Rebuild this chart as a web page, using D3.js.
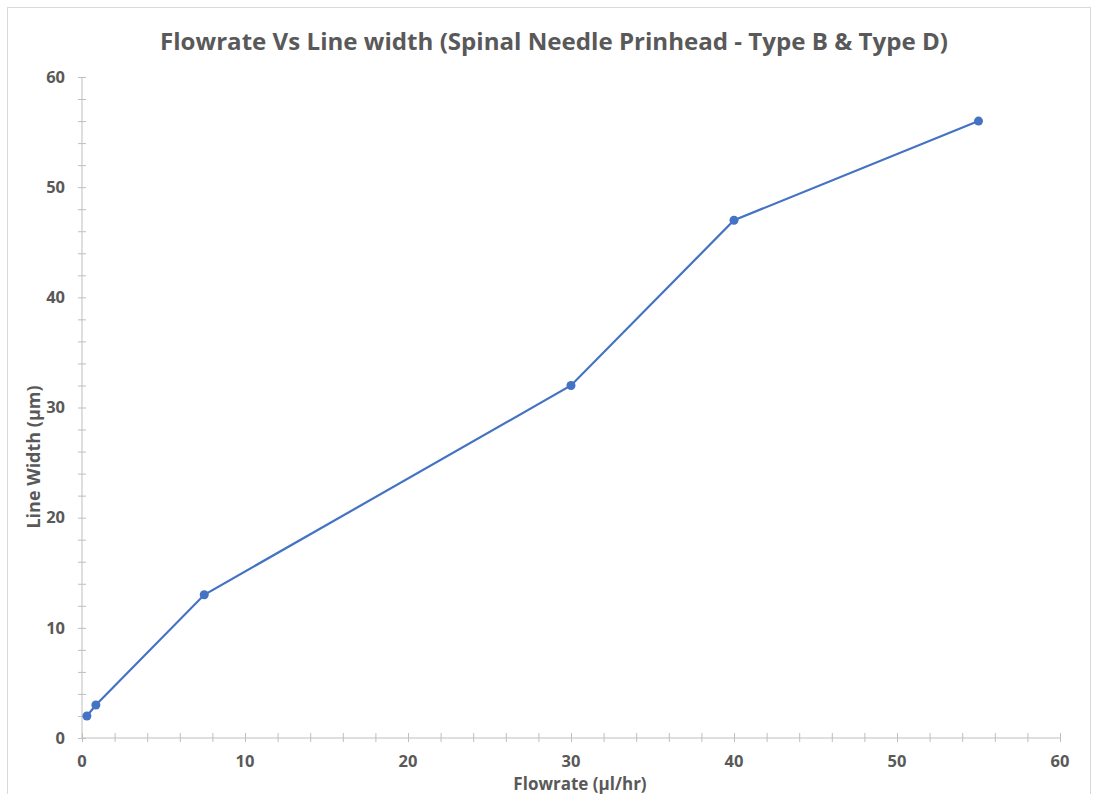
<!DOCTYPE html>
<html>
<head>
<meta charset="utf-8">
<script src="https://cdn.jsdelivr.net/npm/d3@7"></script>
<style>
  body { margin: 0; background: #fff; }
  text { font-family: "Open Sans", "Liberation Sans", sans-serif; }
</style>
</head>
<body>
<script>
// chart values
const flowrate = [0.3, 0.85, 7.5, 30, 40, 55];
const lineWidth = [2, 3, 13, 32, 47, 56];
const xTicks = [0, 10, 20, 30, 40, 50, 60];
const yTicks = [0, 10, 20, 30, 40, 50, 60];
const chartTitle = "Flowrate Vs Line width (Spinal Needle Prinhead - Type B & Type D)";
const xTitle = "Flowrate (µl/hr)";
const yTitle = "Line Width (µm)";

const width = 1095, height = 794;
const margin = { left: 82, right: 35, top: 77, bottom: 56 };

const svg = d3.select("body").append("svg")
  .attr("width", width)
  .attr("height", height);

// outer chart frame
svg.append("rect")
  .attr("x", 7.5).attr("y", 7.5)
  .attr("width", 1083).attr("height", 800)
  .attr("fill", "#fff")
  .attr("stroke", "#d9d9d9");

const x = d3.scaleLinear().domain([0, 60]).range([margin.left, width - margin.right]);
const y = d3.scaleLinear().domain([0, 60]).range([height - margin.bottom, margin.top]);

const grey = "#595959";
const axisCol = "#bfbfbf";

// y axis
const yAxis = svg.append("g").attr("transform", `translate(${x(0)},0)`);
yAxis.append("line")
  .attr("x1", 0).attr("x2", 0)
  .attr("y1", y(0)).attr("y2", y(60))
  .attr("stroke", axisCol);
yAxis.selectAll("line.minor")
  .data(d3.range(0, 61, 2))
  .enter().append("line")
  .attr("class", "minor")
  .attr("x1", -4).attr("x2", 4)
  .attr("y1", d => y(d) + 0.5).attr("y2", d => y(d) + 0.5)
  .attr("stroke", axisCol);
yAxis.selectAll("text")
  .data(yTicks)
  .enter().append("text")
  .attr("x", -17)
  .attr("y", d => y(d))
  .attr("dy", "0.35em")
  .attr("text-anchor", "end")
  .attr("font-size", 16.5)
  .attr("font-weight", "bold")
  .attr("fill", grey)
  .text(d => d);

// x axis
const xAxis = svg.append("g").attr("transform", `translate(0,${y(0)})`);
xAxis.append("line")
  .attr("x1", x(0)).attr("x2", x(60))
  .attr("y1", 0).attr("y2", 0)
  .attr("stroke", axisCol);
xAxis.selectAll("line.minor")
  .data(d3.range(0, 61, 2))
  .enter().append("line")
  .attr("class", "minor")
  .attr("y1", -5).attr("y2", 4)
  .attr("x1", d => x(d) + 0.5).attr("x2", d => x(d) + 0.5)
  .attr("stroke", axisCol);
xAxis.selectAll("text")
  .data(xTicks)
  .enter().append("text")
  .attr("x", d => x(d))
  .attr("y", 29)
  .attr("text-anchor", "middle")
  .attr("font-size", 16.5)
  .attr("font-weight", "bold")
  .attr("fill", grey)
  .text(d => d);

// series
const pts = flowrate.map((f, i) => [f, lineWidth[i]]);
const line = d3.line().x(d => x(d[0])).y(d => y(d[1]));

svg.append("path")
  .datum(pts)
  .attr("d", line)
  .attr("fill", "none")
  .attr("stroke", "#4472C4")
  .attr("stroke-width", 2.2);

svg.selectAll("circle.pt")
  .data(pts)
  .enter().append("circle")
  .attr("class", "pt")
  .attr("cx", d => x(d[0]))
  .attr("cy", d => y(d[1]))
  .attr("r", 4.5)
  .attr("fill", "#4472C4");

// titles
svg.append("text")
  .attr("x", 554).attr("y", 50)
  .attr("text-anchor", "middle")
  .attr("font-size", 24)
  .attr("font-weight", "bold")
  .attr("fill", grey)
  .attr("textLength", 788)
  .attr("lengthAdjust", "spacingAndGlyphs")
  .text(chartTitle);

svg.append("text")
  .attr("x", 580).attr("y", 790)
  .attr("text-anchor", "middle")
  .attr("font-size", 17)
  .attr("font-weight", "bold")
  .attr("fill", grey)
  .text(xTitle);

svg.append("text")
  .attr("transform", "translate(40,457) rotate(-90)")
  .attr("text-anchor", "middle")
  .attr("font-size", 18)
  .attr("font-weight", "bold")
  .attr("fill", grey)
  .text(yTitle);
</script>
</body>
</html>
